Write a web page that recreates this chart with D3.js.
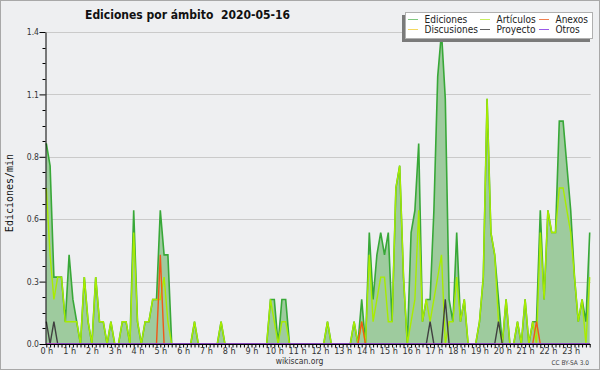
<!DOCTYPE html>
<html>
<head>
<meta charset="utf-8">
<script src="https://cdn.jsdelivr.net/npm/d3@7"></script>
<style>
    body { margin: 0; background: #eeeff1; }
    #chart { width: 600px; height: 370px; }
    text { font-family: "DejaVu Sans Condensed", "DejaVu Sans", sans-serif; font-stretch: condensed; }
</style>
</head>
<body>
<div id="chart"></div>
<script>
// one value per 10 minutes, edits/min, 0h00 .. 23h50 (12 values per row = 2 hours)
const ediciones = [
    0.9,0.8,0.3,0.3,0.3,0.1,0.4,0.2,0.1,0,0.3,0.1,
    0,0.3,0.1,0.1,0,0.1,0,0,0.1,0.1,0,0.6,
    0.1,0,0.1,0.1,0.2,0.2,0.6,0.4,0.4,0,0,0,
    0,0,0,0.1,0,0,0,0,0,0,0.1,0,
    0,0,0,0,0,0,0,0,0,0,0,0.2,
    0.2,0,0.2,0.2,0,0,0,0,0,0,0,0,
    0,0,0.1,0,0,0,0,0,0,0.1,0,0.2,
    0,0.5,0.2,0.4,0.5,0.4,0.5,0.1,0.7,0.8,0.3,0,
    0.5,0.6,0.9,0.1,0.2,0.2,0.6,1.2,1.4,1.1,0.2,0.1,
    0.5,0.1,0.2,0,0,0,0.1,0.3,1.1,0.5,0.4,0.2,
    0,0.2,0,0,0.1,0,0.2,0,0.1,0.1,0.6,0.2,
    0.6,0.5,0.5,1.0,1.0,0.8,0.6,0.3,0.1,0.2,0.1,0.5
];
const articulos = [
    0.7,0.4,0.2,0.3,0.3,0.1,0.1,0.1,0.1,0,0.3,0.1,
    0,0.3,0.1,0.1,0,0.1,0,0,0.1,0.1,0,0.5,
    0.1,0,0.1,0.1,0.2,0.2,0.2,0.3,0.1,0,0,0,
    0,0,0,0.1,0,0,0,0,0,0,0.1,0,
    0,0,0,0,0,0,0,0,0,0,0,0.2,
    0.1,0,0.1,0.1,0,0,0,0,0,0,0,0,
    0,0,0.1,0,0,0,0,0,0,0.1,0,0.1,
    0,0.4,0.1,0.2,0.3,0.3,0.1,0.1,0.7,0.8,0.3,0,
    0.1,0.2,0.6,0.1,0.2,0.1,0.2,0.3,0.4,0,0.1,0.1,
    0.3,0.1,0.2,0,0,0,0.1,0.3,1.1,0.5,0.4,0.1,
    0,0.2,0,0,0.1,0,0.2,0,0.1,0,0.5,0.2,
    0.6,0.5,0.5,0.7,0.7,0.6,0.5,0.3,0.1,0.2,0,0.3
];
const anexos = [
    0,0,0,0,0,0,0,0,0,0,0,0,
    0,0,0,0,0,0,0,0,0,0,0,0,
    0,0,0,0,0,0,0.4,0,0,0,0,0,
    0,0,0,0,0,0,0,0,0,0,0,0,
    0,0,0,0,0,0,0,0,0,0,0,0,
    0,0,0,0,0,0,0,0,0,0,0,0,
    0,0,0,0,0,0,0,0,0,0,0,0.1,
    0,0,0,0,0,0,0,0,0,0,0,0,
    0,0,0,0,0,0,0,0,0,0,0,0,
    0,0,0,0,0,0,0,0,0,0,0,0,
    0,0,0,0,0,0,0,0,0,0.1,0,0,
    0,0,0,0,0,0,0,0,0,0,0,0
];
const proyecto = [
    0.1,0,0.1,0,0,0,0,0,0,0,0,0,
    0,0,0,0,0,0,0,0,0,0,0,0,
    0,0,0,0,0,0,0,0,0,0,0,0,
    0,0,0,0,0,0,0,0,0,0,0,0,
    0,0,0,0,0,0,0,0,0,0,0,0,
    0,0,0,0,0,0,0,0,0,0,0,0,
    0,0,0,0,0,0,0,0,0,0,0,0,
    0,0,0,0,0,0,0,0,0,0,0,0,
    0,0,0,0,0,0.1,0,0,0,0.2,0,0,
    0,0,0,0,0,0,0,0,0,0,0,0.1,
    0,0,0,0,0,0,0,0,0,0,0,0,
    0,0,0,0,0,0,0,0,0,0,0,0
];
const discusiones = [
    0,0,0,0,0,0,0,0,0,0,0,0, 0,0,0,0,0,0,0,0,0,0,0,0,
    0,0,0,0,0,0,0,0,0,0,0,0, 0,0,0,0,0,0,0,0,0,0,0,0,
    0,0,0,0,0,0,0,0,0,0,0,0, 0,0,0,0,0,0,0,0,0,0,0,0,
    0,0,0,0,0,0,0,0,0,0,0,0, 0,0,0,0,0,0,0,0,0,0,0,0,
    0,0,0,0,0,0,0,0,0,0,0,0, 0,0,0,0,0,0,0,0,0,0,0,0,
    0,0,0,0,0,0,0,0,0,0,0,0, 0,0,0,0,0,0,0,0,0,0,0,0
];
const otros = [
    0,0,0,0,0,0,0,0,0,0,0,0, 0,0,0,0,0,0,0,0,0,0,0,0,
    0,0,0,0,0,0,0,0,0,0,0,0, 0,0,0,0,0,0,0,0,0,0,0,0,
    0,0,0,0,0,0,0,0,0,0,0,0, 0,0,0,0,0,0,0,0,0,0,0,0,
    0,0,0,0,0,0,0,0,0,0,0,0, 0,0,0,0,0,0,0,0,0,0,0,0,
    0,0,0,0,0,0,0,0,0,0,0,0, 0,0,0,0,0,0,0,0,0,0,0,0,
    0,0,0,0,0,0,0,0,0,0,0,0, 0,0,0,0,0,0,0,0,0,0,0,0
];
const hourLabels = ["0 h","1 h","2 h","3 h","4 h","5 h","6 h","7 h","8 h","9 h","10 h","11 h",
    "12 h","13 h","14 h","15 h","16 h","17 h","18 h","19 h","20 h","21 h","22 h","23 h"];
const yTicks = [0, 0.28, 0.56, 0.84, 1.12, 1.4];
const binMinutes = 10;

// legend: drawing order of the lines differs from legend order
const series = [
    {name: "Ediciones",   values: ediciones,   color: "#38a838", legend: "#80c880", col: 0, row: 0},
    {name: "Artículos",   values: articulos,   color: "#a8ec00", legend: "#c8ee60", col: 1, row: 0},
    {name: "Discusiones", values: discusiones, color: "#f0d040", legend: "#f4d860", col: 0, row: 1},
    {name: "Anexos",      values: anexos,      color: "#f05818", legend: "#f08050", col: 2, row: 0},
    {name: "Proyecto",    values: proyecto,    color: "#404040", legend: "#606060", col: 1, row: 1},
    {name: "Otros",       values: otros,       color: "#9040e8", legend: "#9a5ae8", col: 2, row: 1}
];

class EditsChart {
    constructor(parentElementID) {
        this.parentElementID = parentElementID;
    }

    initVis() {
        let vis = this;
        vis.width = 600;
        vis.height = 370;
        vis.plot = {left: 46.3, right: 589.7, top: 32, bottom: 344};

        vis.svg = d3.select("#" + vis.parentElementID).append("svg")
            .attr("width", vis.width)
            .attr("height", vis.height);

        vis.svg.append("rect")
            .attr("x", 0.5).attr("y", 0.5)
            .attr("width", vis.width - 1).attr("height", vis.height - 1)
            .attr("fill", "#eeeff1")
            .attr("stroke", "#a8a8a8");

        vis.xScale = d3.scaleLinear()
            .domain([0, 1430])
            .range([vis.plot.left, vis.plot.right]);

        vis.yScale = d3.scaleLinear()
            .domain([0, 1.4])
            .range([vis.plot.bottom, vis.plot.top]);
    }

    updateVis() {
        let vis = this;

        // grid lines
        vis.svg.append("g")
            .selectAll("line")
            .data(yTicks.slice(1))
            .enter().append("line")
            .attr("x1", 45.5)
            .attr("x2", vis.plot.right + 1)
            .attr("y1", d => Math.round(vis.yScale(d)) + 0.5)
            .attr("y2", d => Math.round(vis.yScale(d)) + 0.5)
            .attr("stroke", "#cacaca");

        // filled area for the total
        let area = d3.area()
            .x((d, i) => vis.xScale(i * binMinutes))
            .y0(vis.yScale(0))
            .y1(d => vis.yScale(d));

        vis.svg.append("path")
            .datum(ediciones)
            .attr("d", area)
            .attr("fill", "#9ecb9e");

        let line = d3.line()
            .x((d, i) => vis.xScale(i * binMinutes))
            .y(d => vis.yScale(d));

        vis.svg.append("g")
            .selectAll("path")
            .data(series)
            .enter().append("path")
            .attr("d", d => line(d.values))
            .attr("fill", "none")
            .attr("stroke", d => d.color)
            .attr("stroke-width", d => d.name === "Ediciones" ? 1.6 : 1.4)
            .attr("stroke-linejoin", "miter");

        // y axis
        let yAxis = d3.axisLeft(vis.yScale)
            .tickValues(yTicks)
            .tickSize(6)
            .tickSizeOuter(0)
            .tickFormat(d3.format(".1f"));

        let yG = vis.svg.append("g")
            .attr("transform", "translate(45.5,0)")
            .call(yAxis);
        yG.select(".domain").attr("stroke", "#000");
        yG.selectAll(".tick line").attr("stroke", "#000");
        yG.selectAll(".tick text")
            .attr("font-family", "DejaVu Sans Condensed, DejaVu Sans, sans-serif")
            .attr("font-size", 8.5)
            .attr("fill", "#333")
            .attr("x", -6.5);

        // minor ticks every quarter of a major step
        let minor = d3.range(0, 1.4, 0.07).filter((d, i) => i % 4 !== 0);
        vis.svg.append("g")
            .selectAll("line")
            .data(minor)
            .enter().append("line")
            .attr("x1", 42.5).attr("x2", 45.5)
            .attr("y1", d => Math.round(vis.yScale(d)) + 0.5)
            .attr("y2", d => Math.round(vis.yScale(d)) + 0.5)
            .attr("stroke", "#000");

        // x axis, one tick per bin, label every hour
        let xAxis = d3.axisBottom(vis.xScale)
            .tickValues(d3.range(0, 1440, binMinutes))
            .tickSize(3)
            .tickSizeOuter(0)
            .tickFormat(d => d % 60 === 0 ? hourLabels[d / 60] : "");

        let xG = vis.svg.append("g")
            .attr("transform", "translate(0," + (vis.plot.bottom + 0.5) + ")")
            .call(xAxis);
        xG.select(".domain").attr("stroke", "#000")
            .attr("d", "M45," + 0 + "H" + (vis.plot.right + 1));
        xG.selectAll(".tick line").attr("stroke", "#000");
        xG.selectAll(".tick text")
            .attr("font-family", "DejaVu Sans Condensed, DejaVu Sans, sans-serif")
            .attr("font-size", 9)
            .attr("fill", "#333")
            .attr("y", 3);

        // texts
        vis.svg.append("text")
            .attr("x", 85).attr("y", 18.5)
            .attr("font-size", 13)
            .attr("font-weight", "bold")
            .attr("textLength", 205)
            .attr("lengthAdjust", "spacingAndGlyphs")
            .attr("fill", "#111")
            .style("white-space", "pre")
            .text("Ediciones por ámbito  2020-05-16");

        vis.svg.append("text")
            .attr("transform", "translate(13,193) rotate(-90)")
            .attr("text-anchor", "middle")
            .style("font-family", "DejaVu Sans Mono, monospace")
            .style("font-stretch", "normal")
            .attr("font-size", 10)
            .attr("fill", "#111")
            .text("Ediciones/min");

        vis.svg.append("text")
            .attr("x", 299.5).attr("y", 363.5)
            .attr("text-anchor", "middle")
            .attr("font-size", 8.5)
            .attr("fill", "#333")
            .text("wikiscan.org");

        vis.svg.append("text")
            .attr("x", 589).attr("y", 365)
            .attr("text-anchor", "end")
            .attr("font-size", 6.5)
            .attr("fill", "#444")
            .text("CC BY-SA 3.0");

        // legend with shadow
        let legendG = vis.svg.append("g").attr("class", "legend");
        legendG.append("rect")
            .attr("x", 402).attr("y", 15)
            .attr("width", 188).attr("height", 27)
            .attr("fill", "#7a7a7a");
        legendG.append("rect")
            .attr("x", 405.5).attr("y", 12.5)
            .attr("width", 187).attr("height", 26)
            .attr("fill", "#fff")
            .attr("stroke", "#b0b0b0");

        let colX = [408, 480, 539];
        let rowY = [19.5, 29.5];
        let items = legendG.selectAll(".legend-item")
            .data(series)
            .enter().append("g")
            .attr("class", "legend-item")
            .attr("transform", d => "translate(" + colX[d.col] + "," + rowY[d.row] + ")");

        items.append("line")
            .attr("x1", 0).attr("x2", 10)
            .attr("stroke", d => d.legend)
            .attr("stroke-width", 1);

        items.append("text")
            .attr("x", 16.5)
            .attr("y", 3.5)
            .attr("font-size", 10)
            .attr("fill", "#222")
            .text(d => d.name);
    }
}

let chart = new EditsChart("chart");
chart.initVis();
chart.updateVis();
</script>
</body>
</html>
